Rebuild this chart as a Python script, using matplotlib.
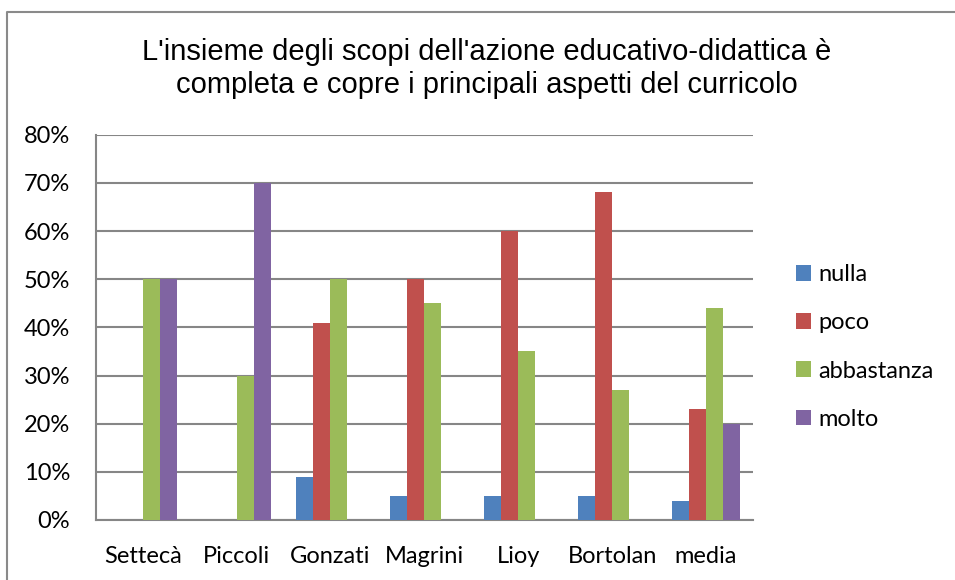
import numpy as np
import matplotlib
matplotlib.use('Agg')
import matplotlib.pyplot as plt
from matplotlib.lines import Line2D
from matplotlib.ticker import PercentFormatter

categories = ['Settecà', 'Piccoli', 'Gonzati', 'Magrini', 'Lioy', 'Bortolan', 'media']
nulla = [0, 0, 9, 5, 5, 5, 4]
poco = [0, 0, 41, 50, 60, 68, 23]
abbastanza = [50, 30, 50, 45, 35, 27, 44]
molto = [50, 70, 0, 0, 0, 0, 20]

series = ['nulla', 'poco', 'abbastanza', 'molto']
colors = ['#4F81BD', '#C0504D', '#9BBB59', '#8064A2']

W, H = 955, 580
fig = plt.figure(figsize=(9.55, 5.8), dpi=100)
ax = fig.add_axes([95.7 / W, 1 - 520 / H, (753 - 95.7) / W, (520 - 134.7) / H])

# bordo grigio (solo sinistra e sopra sono visibili)
fig.lines.append(Line2D([7 / W, 7 / W, 1], [0, 1 - 11.5 / H, 1 - 11.5 / H],
                        transform=fig.transFigure, color='#8a8a8a', linewidth=1.5))

x = np.arange(len(categories))
w = 0.181
for i, vals in enumerate([nulla, poco, abbastanza, molto]):
    ax.bar(x + (i - 1.5) * w, vals, width=w, color=colors[i], label=series[i], zorder=3)

ax.set_xlim(-0.5, len(categories) - 0.5)
ax.set_ylim(0, 80)
ax.set_yticks(range(0, 81, 10))
ax.yaxis.set_major_formatter(PercentFormatter(decimals=0))
ax.set_xticks(x)
ax.set_xticklabels(categories)
ax.tick_params(length=0, labelsize=17)
ax.tick_params(axis='y', pad=18.5)
ax.tick_params(axis='x', pad=19)
for lbl in ax.get_xticklabels() + ax.get_yticklabels():
    lbl.set_fontfamily('Lato')
ax.grid(axis='y', color='#868686', linewidth=1.5, zorder=0)
for s in ['top', 'right']:
    ax.spines[s].set_visible(False)
for s in ['left', 'bottom']:
    ax.spines[s].set_color('#868686')
    ax.spines[s].set_linewidth(1.5)

fig.text(486.5 / W, 1 - 60 / H, "L'insieme degli scopi dell'azione educativo-didattica è",
         ha='center', va='baseline', fontsize=21, fontfamily='Liberation Sans')
fig.text(486.5 / W, 1 - 93 / H, "completa e copre i principali aspetti del curricolo",
         ha='center', va='baseline', fontsize=21, fontfamily='Liberation Sans')

leg = fig.legend(*ax.get_legend_handles_labels(), loc='center left',
                 bbox_to_anchor=(796 / W, 1 - 347 / H), frameon=False, borderpad=0,
                 borderaxespad=0, prop={'family': 'Lato', 'size': 17},
                 handlelength=0.64, handleheight=0.64, labelspacing=1.15, handletextpad=0.3)

fig.savefig('out.png', dpi=100)
